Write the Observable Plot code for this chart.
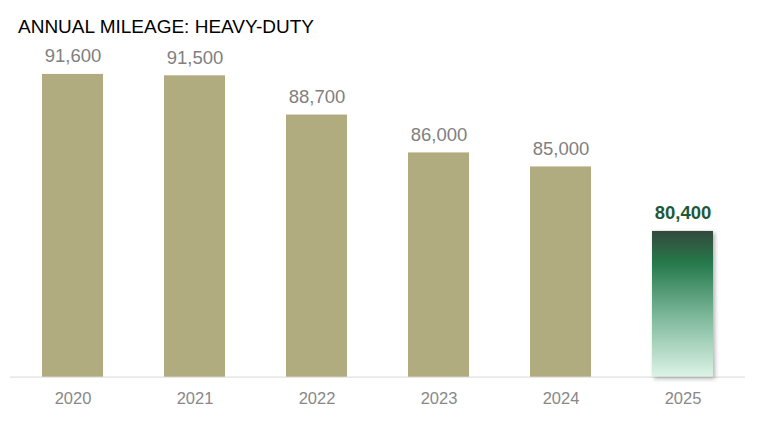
<!DOCTYPE html>
<html>
<head>
<meta charset="utf-8">
<script src="https://cdn.jsdelivr.net/npm/d3@7"></script>
<script src="https://cdn.jsdelivr.net/npm/@observablehq/plot@0.6"></script>
<style>
  html, body { margin: 0; padding: 0; background: #fff; }
  #title { height: 40px; box-sizing: border-box; padding: 16px 0 0 18px; font: 19px/21px "Liberation Sans", Arial, sans-serif; color: #000; margin: 0; white-space: nowrap; }
  #chart svg { display: block; }
</style>
</head>
<body>
<div id="title">ANNUAL MILEAGE: HEAVY-DUTY</div>
<div id="chart"></div>
<script>
const years = ["2020", "2021", "2022", "2023", "2024", "2025"];
const mileage = [91600, 91500, 88700, 86000, 85000, 80400];
const highlightYear = "2025";

const data = years.map((year, i) => ({ year, value: mileage[i] }));
const regular = data.filter(d => d.year !== highlightYear);
const highlight = data.filter(d => d.year === highlightYear);
const fmt = d3.format(",");

const chart = Plot.plot({
  width: 772,
  height: 392,
  marginLeft: 10,
  marginRight: 27,
  marginTop: 28.3,
  marginBottom: 55.3,
  style: { fontFamily: "Liberation Sans, Arial, sans-serif", fontSize: "16.5px", color: "#888", background: "#fff" },
  x: { domain: years, paddingInner: 0.5, paddingOuter: 0.25, tickSize: 0, tickPadding: 15, label: null },
  y: { domain: [70000, 92000], axis: null },
  marks: [
    Plot.ruleY([70000], { stroke: "#e0e0e0", strokeWidth: 1.2 }),
    Plot.barY(regular, { x: "year", y1: 70000, y2: "value", fill: "#b1ac80" }),
    Plot.barY(highlight, { x: "year", y1: 70000, y2: "value", fill: "url(#grad2025)" }),
    Plot.text(regular, { x: "year", y: "value", text: d => fmt(d.value), dy: -18, fill: "#7f7f7f", fontSize: 18.5 }),
    Plot.text(highlight, { x: "year", y: "value", text: d => fmt(d.value), dy: -18, fill: "#1d5a38", fontSize: 18.5, fontWeight: "bold" })
  ]
});

const svg = d3.select(chart.tagName === "svg" ? chart : chart.querySelector("svg"));
const defs = svg.insert("defs", ":first-child");
const grad = defs.append("linearGradient").attr("id", "grad2025").attr("x1", 0).attr("y1", 0).attr("x2", 0).attr("y2", 1);
[[0, "#34493d"], [0.22, "#25794b"], [0.6, "#80ba9d"], [1, "#dcf3e6"]].forEach(([o, c]) => grad.append("stop").attr("offset", o).attr("stop-color", c));
svg.selectAll("[fill='url(#grad2025)']").style("filter", "drop-shadow(2px 2px 2px rgba(0,0,0,0.3))");

document.getElementById("chart").appendChild(chart);
</script>
</body>
</html>
